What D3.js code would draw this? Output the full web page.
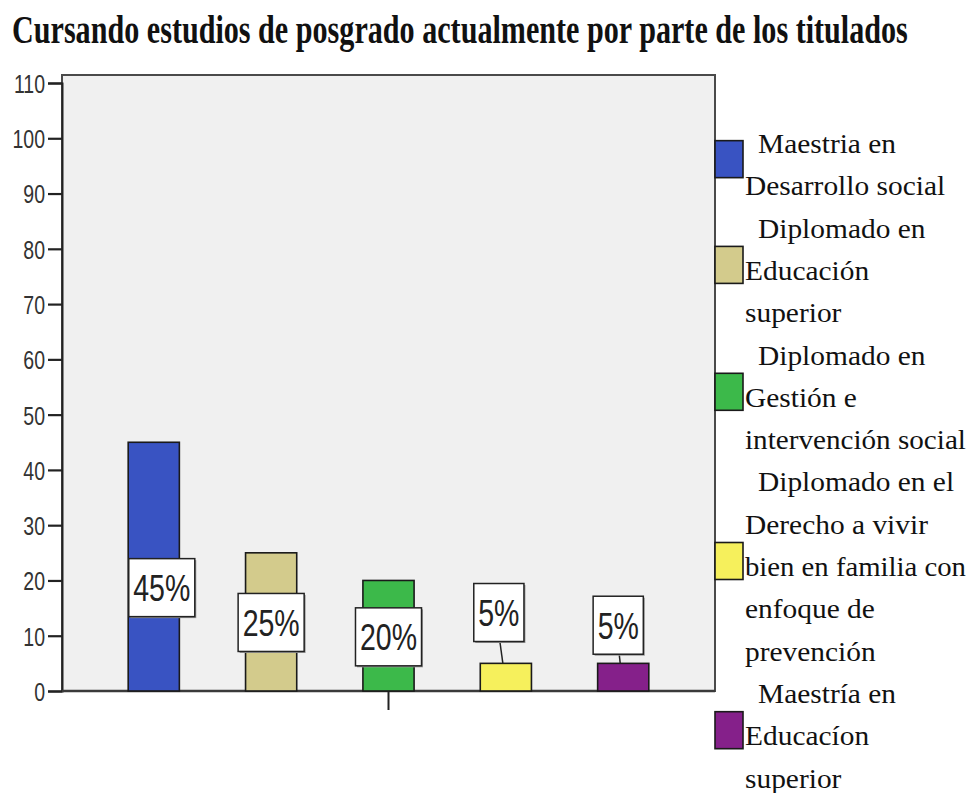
<!DOCTYPE html>
<html>
<head>
<meta charset="utf-8">
<script src="https://cdn.jsdelivr.net/npm/d3@7/dist/d3.min.js"></script>
<style>
  html, body { margin: 0; padding: 0; background: #ffffff; }
  svg { display: block; }
</style>
</head>
<body>
<script>
// ---- data ----
const titleText = "Cursando estudios de posgrado actualmente por parte de los titulados";
const categories = [
  "Maestria en Desarrollo social",
  "Diplomado en Educación superior",
  "Diplomado en Gestión e intervención social",
  "Diplomado en el Derecho a vivir bien en familia con enfoque de prevención",
  "Maestría en Educacíon superior"
];
const values = [45, 25, 20, 5, 5];
const valueLabels = ["45%", "25%", "20%", "5%", "5%"];
const yTicks = [0, 10, 20, 30, 40, 50, 60, 70, 80, 90, 100, 110];
const legendLines = [
  [" Maestria en", "Desarrollo social"],
  [" Diplomado en", "Educación", "superior"],
  [" Diplomado en", "Gestión e", "intervención social"],
  [" Diplomado en el", "Derecho a vivir", "bien en familia con", "enfoque de", "prevención"],
  [" Maestría en", "Educacíon", "superior"]
];
const colors = ["#3953c2", "#d3cb8c", "#3cb94a", "#f6f05c", "#85208a"];
// label placement (layout): anchor height in axis units and horizontal pixel nudge
const labelAnchor = [18.7, 12.4, 9.8, 14.2, 11.9];
const labelDx = [8, 0, 0, -7, -5];

// ---- layout ----
const W = 969, H = 793;
const plot = { left: 62, right: 715, top: 75, bottom: 691 };

const svg = d3.select("body").append("svg").attr("width", W).attr("height", H);

// title (condensed to fit the reference width)
const title = svg.append("text")
  .attr("font-family", "Liberation Serif, Times New Roman, serif")
  .attr("font-weight", "bold")
  .attr("font-size", 39)
  .attr("fill", "#111")
  .text(titleText);
const titleW = title.node().getComputedTextLength();
title.attr("transform", `translate(12,43) scale(${896 / titleW},1)`);

const y = d3.scaleLinear().domain([0, 110]).range([691, 83]);
const x = d3.scaleBand().domain(d3.range(categories.length))
  .range([plot.left, plot.right]).padding(0.564);
const xCenter = d3.scaleBand().domain(["all"]).range([plot.left, plot.right]);

// plot background & frame
svg.append("rect")
  .attr("x", plot.left).attr("y", plot.top)
  .attr("width", plot.right - plot.left).attr("height", plot.bottom - plot.top)
  .attr("fill", "#f0f0f0")
  .attr("stroke", "#4a4a4a").attr("stroke-width", 2);

// y axis
const SX = 0.75;
const yAxis = svg.append("g")
  .attr("transform", `translate(${plot.left},0)`)
  .call(d3.axisLeft(y).tickValues(yTicks).tickSize(14).tickPadding(3));
yAxis.select(".domain").attr("stroke", "#222").attr("stroke-width", 2);
yAxis.selectAll(".tick line").attr("stroke", "#222").attr("stroke-width", 2.2);
yAxis.selectAll(".tick text")
  .attr("font-family", "Liberation Sans, Arial, sans-serif")
  .attr("font-size", 26)
  .attr("fill", "#333")
  .attr("dy", "0.36em")
  .attr("x", -17 / SX)
  .attr("transform", `scale(${SX},1)`);

// x axis (single central tick)
const xAxis = svg.append("g")
  .attr("transform", `translate(0,${plot.bottom})`)
  .call(d3.axisBottom(xCenter).tickSize(19).tickFormat(""));
xAxis.select(".domain").remove();
xAxis.selectAll(".tick line").attr("stroke", "#222").attr("stroke-width", 2);
svg.append("line")
  .attr("x1", plot.left).attr("x2", plot.right)
  .attr("y1", plot.bottom).attr("y2", plot.bottom)
  .attr("stroke", "#3a3a3a").attr("stroke-width", 2.5);

// bars
svg.append("g").selectAll("rect")
  .data(values)
  .join("rect")
  .attr("x", (d, i) => x(i))
  .attr("y", d => y(d))
  .attr("width", x.bandwidth())
  .attr("height", d => y(0) - y(d))
  .attr("fill", (d, i) => colors[i])
  .attr("stroke", "#1a1a1a").attr("stroke-width", 1.6);

// value labels
const labG = svg.append("g");
values.forEach((v, i) => {
  const cx = x(i) + x.bandwidth() / 2 + labelDx[i];
  const cy = y(labelAnchor[i]);
  const g = labG.append("g");
  const t = g.append("text")
    .attr("font-family", "Liberation Sans, Arial, sans-serif")
    .attr("font-size", 37)
    .attr("fill", "#222")
    .attr("text-anchor", "middle")
    .attr("transform", `translate(${cx},${cy + 13.5}) scale(0.77,1)`)
    .text(valueLabels[i]);
  const tw = t.node().getComputedTextLength() * 0.77;
  const bw = tw + 9, bh = 58;
  const boxTop = cy - bh / 2, boxBot = cy + bh / 2;
  if (boxBot < y(v)) {
    g.insert("line", "text")
      .attr("x1", cx + 1).attr("y1", boxBot)
      .attr("x2", x(i) + x.bandwidth() / 2 - 3).attr("y2", y(v))
      .attr("stroke", "#222").attr("stroke-width", 1.5);
  }
  g.insert("rect", "text")
    .attr("x", cx - bw / 2 + 1.5).attr("y", boxTop + 1.5)
    .attr("width", bw).attr("height", bh)
    .attr("fill", "#9a9a9a");
  g.insert("rect", "text")
    .attr("x", cx - bw / 2).attr("y", boxTop)
    .attr("width", bw).attr("height", bh)
    .attr("fill", "#ffffff")
    .attr("stroke", "#222").attr("stroke-width", 1.5);
});

// legend
const LH = 42.3, firstBase = 153, textX = 745, swX = 715, swW = 28, swH = 37;
const maxRight = 966, LSX = 1.07;
const legG = svg.append("g");
let lineIdx = 0;
legendLines.forEach((lines, i) => {
  const startIdx = lineIdx;
  lines.forEach((ln) => {
    const indent = ln.startsWith(" ") ? 13 : 0;
    const tx = textX + indent;
    const t = legG.append("text")
      .attr("font-family", "Liberation Serif, Times New Roman, serif")
      .attr("font-size", 27.5)
      .attr("fill", "#111")
      .text(ln.trim());
    const w = t.node().getComputedTextLength();
    const sx = Math.min(LSX, (maxRight - tx) / w);
    t.attr("transform", `translate(${tx},${firstBase + lineIdx * LH}) scale(${sx},1)`);
    lineIdx++;
  });
  const midBase = firstBase + (startIdx + (lines.length - 1) / 2) * LH;
  const cy = midBase - 15;
  legG.append("rect")
    .attr("x", swX).attr("y", cy - swH / 2)
    .attr("width", swW).attr("height", swH)
    .attr("fill", colors[i])
    .attr("stroke", "#1a1a1a").attr("stroke-width", 1.6);
});
</script>
</body>
</html>
